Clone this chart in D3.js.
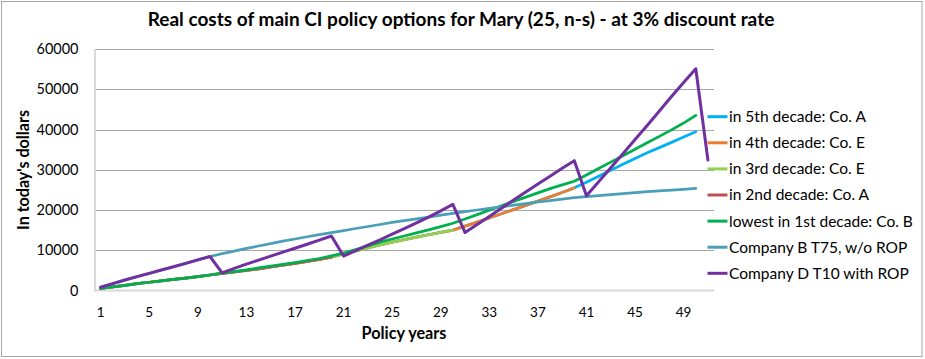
<!DOCTYPE html>
<html><head><meta charset="utf-8">
<script src="https://cdn.jsdelivr.net/npm/d3@7/dist/d3.min.js"></script>
<style>body{margin:0;background:#fff}svg{display:block}</style>
</head><body>
<script>
// ---------- data ----------
const years = d3.range(1, 52);               // policy years 1..51 (categories)
const xTickLabels = [1, 5, 9, 13, 17, 21, 25, 29, 33, 37, 41, 45, 49];
const yTicks = [0, 10000, 20000, 30000, 40000, 50000, 60000];

// lowest in 1st decade: Co. B (years 1-50)
const greenCoB = [500, 900, 1300, 1700, 2050, 2400, 2750, 3100, 3450, 3850,
  4300, 4700, 5150, 5600, 6050, 6500, 6950, 7450, 7950, 8600,
  9300, 10200, 11100, 12000, 12800, 13550, 14300, 15050, 15850, 16700,
  17750, 18850, 19950, 21050, 22150, 23200, 24250, 25300, 26250, 27150,
  28700, 30300, 31900, 33500, 35100, 36700, 38300, 39900, 41600, 43500];
// in 2nd decade: Co. A (years 11-20)
const red2ndCoA = [4250, 4600, 5000, 5400, 5850, 6300, 6750, 7250, 7750, 8300];
// in 3rd decade: Co. E (years 21-30)
const lightGreen3rdCoE = [9100, 9850, 10600, 11300, 12000, 12650, 13250, 13850, 14450, 15000];
// in 4th decade: Co. E (years 31-40)
const orange4thCoE = [16000, 17000, 18000, 19050, 20100, 21150, 22200, 23250, 24350, 25500];
// in 5th decade: Co. A (years 41-50)
const cyan5thCoA = [26900, 28400, 29900, 31350, 32800, 34200, 35500, 36800, 38150, 39450];
// Company B T75, w/o ROP (years 1-50)
const tealCoBT75 = [800, 1700, 2600, 3450, 4250, 5100, 5900, 6750, 7600, 8450,
  9150, 9800, 10450, 11050, 11650, 12250, 12800, 13350, 13900, 14400,
  14900, 15400, 15900, 16400, 16900, 17350, 17800, 18250, 18700, 19150,
  19600, 20000, 20400, 20800, 21200, 21600, 22000, 22350, 22700, 23050,
  23300, 23550, 23800, 24050, 24300, 24550, 24750, 24950, 25150, 25350];
// Company D T10 with ROP (years 1-51)
const purpleCoDT10 = [800, 1700, 2600, 3450, 4250, 5100, 5900, 6750, 7600, 8450,
  4400, 5500, 6550, 7550, 8550, 9550, 10500, 11500, 12500, 13550,
  8550, 9900, 11250, 12600, 14000, 15400, 16800, 18250, 19800, 21400,
  14400, 16400, 18400, 20450, 22500, 24500, 26450, 28400, 30350, 32250,
  23550, 27000, 30500, 34000, 37500, 41000, 44600, 48200, 51700, 55100, 32400];

const seriesNames = ["in 5th decade: Co. A", "in 4th decade: Co. E", "in 3rd decade: Co. E",
  "in 2nd decade: Co. A", "lowest in 1st decade: Co. B", "Company B T75, w/o ROP", "Company D T10 with ROP"];
const seriesColors = ["#00B0F0", "#ED7D31", "#92D050", "#C0504D", "#00B050", "#4A9EB8", "#7030A0"];

// composite paths (each decade path continues the previous one)
const redFull = greenCoB.slice(0, 10).concat(red2ndCoA);
const lgFull = redFull.concat(lightGreen3rdCoE);
const orFull = lgFull.concat(orange4thCoE);
const cyFull = orFull.concat(cyan5thCoA);
const seriesValues = [cyFull, orFull, lgFull, redFull, greenCoB, tealCoBT75, purpleCoDT10];

// ---------- layout ----------
const W = 925, H = 359;
const FONT = "Lato, 'Open Sans', sans-serif";
const svg = d3.select("body").append("svg").attr("width", W).attr("height", H)
  .style("font-family", FONT);

svg.append("rect").attr("x", 1.5).attr("y", 1.5).attr("width", 920.5).attr("height", 355)
  .attr("fill", "#fff").attr("stroke", "#a6a6a6").attr("stroke-width", 1);

const x = d3.scaleBand().domain(years).range([94.6, 714]);
const y = d3.scaleLinear().domain([0, 60000]).range([290.5, 49]);
const cx = d => x(d) + x.bandwidth() / 2;

function fit(sel, target) {
  const n = sel.node();
  const w = n.getComputedTextLength();
  const fs = parseFloat(sel.attr("font-size"));
  sel.attr("font-size", (fs * target / w).toFixed(2));
}

// gridlines
svg.append("g").selectAll("line").data(yTicks.slice(1)).join("line")
  .attr("x1", 94.6).attr("x2", 714).attr("y1", d => Math.round(y(d)) + 0.5).attr("y2", d => Math.round(y(d)) + 0.5)
  .attr("stroke", "#a6a6a6").attr("stroke-width", 1);

// axes lines
svg.append("line").attr("x1", 95).attr("x2", 95).attr("y1", 49).attr("y2", 291.5)
  .attr("stroke", "#d9d9d9").attr("stroke-width", 2);
svg.append("line").attr("x1", 94).attr("x2", 714).attr("y1", 290.5).attr("y2", 290.5)
  .attr("stroke", "#d9d9d9").attr("stroke-width", 2);

// y tick labels
const yl = svg.append("g").selectAll("text").data(yTicks).join("text")
  .attr("x", 78.5).attr("y", d => y(d)).attr("dy", "0.35em").attr("text-anchor", "end")
  .attr("font-size", 15).attr("fill", "#000").text(d => d);
{ const t = yl.filter(d => d === 60000); const w = t.node().getComputedTextLength();
  yl.attr("font-size", (15 * 42 / w).toFixed(2)); }

// x tick labels
const xl = svg.append("g").selectAll("text").data(xTickLabels).join("text")
  .attr("x", d => cx(d)).attr("y", 312.7).attr("dy", "0.35em").attr("text-anchor", "middle")
  .attr("font-size", 15).attr("fill", "#000").text(d => d);
{ const t = xl.filter(d => d === 13); const w = t.node().getComputedTextLength();
  xl.attr("font-size", (15 * 15.7 / w).toFixed(2)); }

// lines
const line = d3.line().defined(d => d != null).x((d, i) => cx(years[i])).y(d => y(d));
svg.append("g").selectAll("path").data(seriesValues).join("path")
  .attr("d", d => line(d)).attr("fill", "none")
  .attr("stroke", (d, i) => seriesColors[i])
  .attr("stroke-width", (d, i) => i === 6 ? 3 : 2.75)
  .attr("stroke-linejoin", "round").attr("stroke-linecap", "round");

// legend
const lg = svg.append("g").selectAll("g").data(seriesNames).join("g")
  .attr("transform", (d, i) => `translate(0,${116.7 + i * 26.1})`);
lg.append("line").attr("x1", 707.5).attr("x2", 727.5).attr("y1", 0).attr("y2", 0)
  .attr("stroke", (d, i) => seriesColors[i]).attr("stroke-width", 3);
const lt = lg.append("text").attr("x", 729).attr("y", 0).attr("dy", "0.35em")
  .attr("font-size", 14).attr("fill", "#000").text(d => d);
{ const t = lt.filter(d => d === "lowest in 1st decade: Co. B"); const w = t.node().getComputedTextLength();
  lt.attr("font-size", (14 * 184 / w).toFixed(2)); }

// title
const title = svg.append("text").attr("x", 461).attr("y", 19).attr("dy", "0.35em")
  .attr("text-anchor", "middle").attr("font-weight", "bold").attr("font-size", 18)
  .text("Real costs of main CI policy options for Mary (25, n-s) - at 3% discount rate");
fit(title, 627);

// axis titles
const xt = svg.append("text").attr("x", 404).attr("y", 333.5).attr("dy", "0.35em")
  .attr("text-anchor", "middle").attr("font-weight", "bold").attr("font-size", 15).text("Policy years");
fit(xt, 85);
const yt = svg.append("text").attr("transform", "translate(23,170) rotate(-90)").attr("dy", "0.35em")
  .attr("text-anchor", "middle").attr("font-weight", "bold").attr("font-size", 15).text("In today's dollars");
fit(yt, 120);
</script>
</body></html>
